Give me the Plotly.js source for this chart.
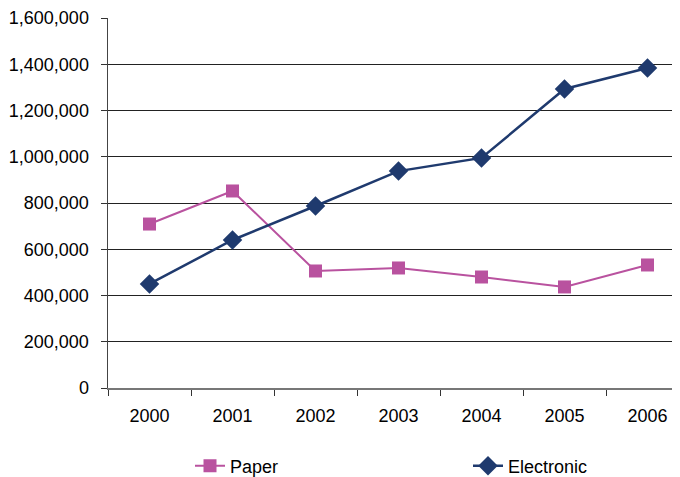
<!DOCTYPE html>
<html>
<head>
<meta charset="utf-8">
<script src="https://cdn.plot.ly/plotly-3.0.1.min.js"></script>
<style>html,body{margin:0;padding:0;background:#fff}#chart{width:680px;height:477px}</style>
</head>
<body>
<div id="chart"></div>
<script>
const years = ["2000","2001","2002","2003","2004","2005","2006"];
const paper = [709000, 852000, 506000, 519000, 480000, 437000, 532000];
const electronic = [450000, 640000, 787000, 938000, 995000, 1293000, 1384000];
const yTicks = [0,200000,400000,600000,800000,1000000,1200000,1400000,1600000];
const yTickText = ["0","200,000","400,000","600,000","800,000","1,000,000","1,200,000","1,400,000","1,600,000"];

const data = [
  {x: years, y: paper, name: "Paper", type: "scatter", mode: "lines+markers", legend: "legend",
   line: {color: "#B9529F", width: 2}, marker: {symbol: "square", size: 13, color: "#B9529F"}},
  {x: years, y: electronic, name: "Electronic", type: "scatter", mode: "lines+markers", legend: "legend2",
   line: {color: "#1F3A6E", width: 2.5}, marker: {symbol: "diamond", size: 15, color: "#1F3A6E"}}
];
const legBase = {orientation: "h", xref: "container", yref: "container", yanchor: "middle",
                 xanchor: "left", y: 0.023, font: {size: 18}, bgcolor: "rgba(0,0,0,0)"};
const layout = {
  width: 680, height: 477,
  margin: {l: 108, r: 8, t: 18, b: 89},
  paper_bgcolor: "#fff", plot_bgcolor: "#fff",
  font: {family: "Liberation Sans, Arial, sans-serif", size: 18, color: "#000"},
  showlegend: true,
  legend: Object.assign({}, legBase, {x: 190/680}),
  legend2: Object.assign({}, legBase, {x: 468/680}),
  xaxis: {type: "category", range: [-0.5, 6.295], tickson: "boundaries", ticks: "outside", ticklen: 6,
          tickcolor: "#333", showline: true, linecolor: "#777", linewidth: 2,
          showgrid: false, zeroline: false, ticklabelstandoff: 10},
  yaxis: {range: [0, 1600000], tickvals: yTicks, ticktext: yTickText,
          ticks: "outside", ticklen: 6, tickcolor: "#333", showline: true,
          linecolor: "#444", linewidth: 1.5, showgrid: true, gridcolor: "#222",
          gridwidth: 1, zeroline: false, ticklabelstandoff: 8}
};
Plotly.newPlot("chart", data, layout, {displayModeBar: false, staticPlot: true});
</script>
</body>
</html>
